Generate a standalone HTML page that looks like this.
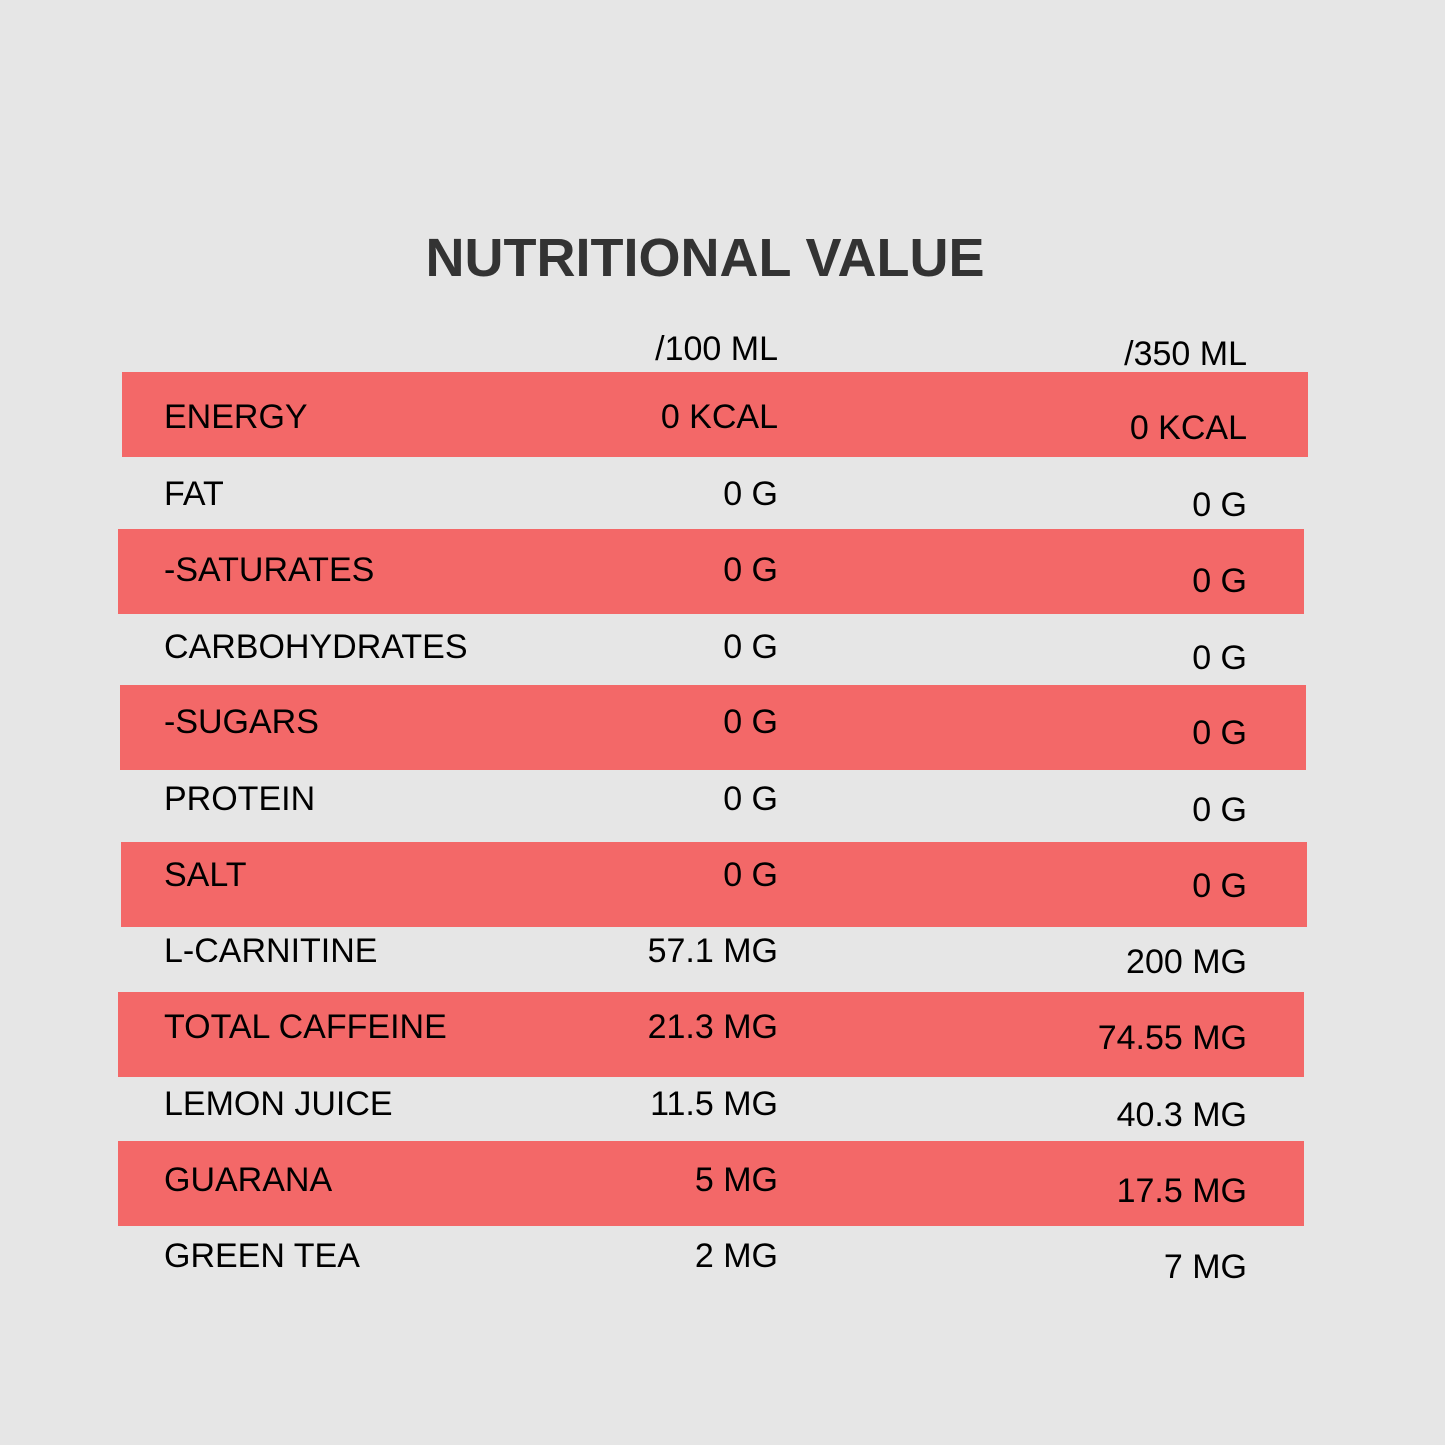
<!DOCTYPE html>
<html><head><meta charset="utf-8"><style>
body{margin:0;background:#e6e6e6;}
#page{position:relative;width:1445px;height:1445px;background:#e6e6e6;font-family:"Liberation Sans",Arial,sans-serif;overflow:hidden}
.t{position:absolute;font-size:34px;line-height:34px;height:34px;color:#000;white-space:nowrap}
.band{position:absolute;height:85px;background:#f36868}
#title{position:absolute;left:0;width:1410px;text-align:center;top:228px;font-size:54px;line-height:60px;font-weight:bold;color:#333}
</style></head><body>
<div id="page">
<div id="title">NUTRITIONAL VALUE</div>
</div>
<script>
const labels=["ENERGY","FAT","-SATURATES","CARBOHYDRATES","-SUGARS","PROTEIN","SALT","L-CARNITINE","TOTAL CAFFEINE","LEMON JUICE","GUARANA","GREEN TEA"];
const per100=["0 KCAL","0 G","0 G","0 G","0 G","0 G","0 G","57.1 MG","21.3 MG","11.5 MG","5 MG","2 MG"];
const per350=["0 KCAL","0 G","0 G","0 G","0 G","0 G","0 G","200 MG","74.55 MG","40.3 MG","17.5 MG","7 MG"];
const page=document.getElementById('page');
const centers=[417,494,570,647,722,799,875,951,1027,1104,1180,1256];
const bandTops=[372,null,529,null,685,null,842,null,992,null,1141,null];
const bandLeft=[122,0,118,0,120,0,121,0,118,0,118,0];
function txt(s,y,opts){const d=document.createElement('div');d.className='t';d.textContent=s;d.style.top=(y-17)+'px';
if(opts.right!=null){d.style.right=(1445-opts.right)+'px';}else d.style.left=opts.left+'px';page.appendChild(d);return d;}
bandTops.forEach((t,i)=>{if(t==null)return;const b=document.createElement('div');b.className='band';


b.style.top=t+'px';b.style.left=bandLeft[i]+'px';b.style.width='1186px';page.insertBefore(b,page.firstChild.nextSibling);});
let h1=txt('/100 ML',349,{right:778});


let h2=txt('/350 ML',354,{right:1247});


labels.forEach((l,i)=>{const c=centers[i];
let a=txt(l,c,{left:164});


let b=txt(per100[i],c,{right:778});


let d=txt(per350[i],c+11,{right:1247});


});
</script>
</body></html>
